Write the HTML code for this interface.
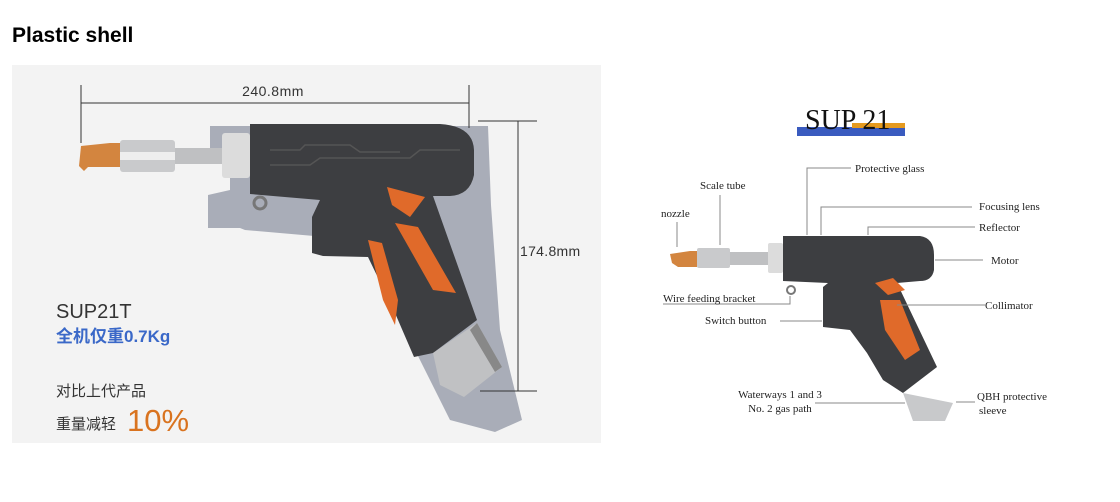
<!DOCTYPE html>
<html><head><meta charset="utf-8"><style>
body{margin:0;width:1120px;height:502px;background:#fff;overflow:hidden;font-family:"Liberation Sans",sans-serif}
</style></head><body>
<svg width="1120" height="502" xmlns="http://www.w3.org/2000/svg" style="position:absolute;left:0;top:0">
<text x="12" y="42" font-family="Liberation Sans" font-weight="bold" font-size="21" fill="#000">Plastic shell</text>
<rect x="12" y="65" width="589" height="378" fill="#f3f3f3"/>
<g fill="#a9adb8">
<polygon points="210,126 488,126 491,205 500,330 522,420 495,432 450,420 420,360 390,300 360,240 245,230 240,228 208,228 208,195 230,190 230,150 210,150"/>
</g>
<g stroke="#333" stroke-width="1" fill="none">
<line x1="81" y1="103" x2="469" y2="103"/><line x1="81" y1="85" x2="81" y2="143"/><line x1="469" y1="85" x2="469" y2="128"/>
<line x1="518" y1="121" x2="518" y2="391"/><line x1="478" y1="121" x2="537" y2="121"/><line x1="480" y1="391" x2="537" y2="391"/>
</g>
<text x="273" y="96" text-anchor="middle" font-size="14" fill="#333" letter-spacing="0.5">240.8mm</text>
<text x="520" y="256" font-size="14" fill="#333" letter-spacing="0.3">174.8mm</text>
<polygon points="81,146 110,143 120,143 120,167 88,167 84,171 79,166" fill="#d3853f"/>
<rect x="120" y="140" width="55" height="32" rx="3" fill="#c9cacc"/>
<rect x="120" y="152" width="55" height="8" fill="#eeeeee"/>
<rect x="175" y="148" width="48" height="16" fill="#bfc0c2"/>
<rect x="222" y="133" width="28" height="45" rx="3" fill="#dcdcdc"/>
<circle cx="260" cy="203" r="6" fill="none" stroke="#777" stroke-width="3"/>
<path d="M250,124 L440,124 Q473,126 474,150 L474,175 Q470,195 450,196 L433,196 L477,320 L433,353 L414,357 L395,313 L368,257 L323,256 L312,253 L312,217 L320,200 L250,194 Z" fill="#3d3e41"/>
<polygon points="387,187 425,197 410,217 392,205" fill="#e06a2a"/>
<polygon points="395,223 418,227 456,293 433,290" fill="#e06a2a"/>
<polygon points="368,240 382,243 398,300 395,325 383,300" fill="#e06a2a"/>
<polygon points="433,353 477,323 502,367 464,397 440,385" fill="#c0c1c3"/>
<polygon points="477,323 502,367 495,372 470,330" fill="#888"/>
<g stroke="#555" stroke-width="1.5" fill="none"><path d="M270,150 L300,150 L305,145 L350,145 L360,152 L400,152"/><path d="M270,165 L310,165 L320,158 L410,158 L420,150 L460,150"/></g>
<text x="56" y="318" font-size="20" fill="#333">SUP21T</text>
<text x="56" y="342" font-family="Liberation Sans,'Noto Sans CJK SC',sans-serif" font-size="17" font-weight="bold" fill="#3a68c8">全机仅重0.7Kg</text>
<text x="56" y="396" font-family="Liberation Sans,'Noto Sans CJK SC',sans-serif" font-size="15" fill="#333">对比上代产品</text>
<text x="56" y="429" font-family="Liberation Sans,'Noto Sans CJK SC',sans-serif" font-size="15" fill="#333">重量减轻</text>
<text x="127" y="431" font-size="31" fill="#d9731f">10%</text>
<rect x="797" y="127" width="108" height="9" fill="#3a5bbf"/>
<rect x="852" y="123" width="53" height="5" fill="#e59a1f"/>
<text x="805" y="129" font-family="Liberation Serif,serif" font-size="28" fill="#111">SUP 21</text>
<polygon points="670,254 690,251 697,251 697,267 678,267 672,263" fill="#d3853f"/>
<rect x="697" y="248" width="33" height="20" rx="2" fill="#c9cacc"/>
<rect x="730" y="252" width="38" height="13" fill="#bfc0c2"/>
<rect x="768" y="243" width="15" height="30" rx="2" fill="#dcdcdc"/>
<circle cx="791" cy="290" r="4" fill="none" stroke="#777" stroke-width="2"/>
<path d="M783,236 L920,236 Q934,238 934,255 L934,270 Q932,281 920,281 L897,283 L937,367 L903,393 L883,380 L867,353 L850,330 L823,327 L823,287 L828,283 L783,281 Z" fill="#3d3e41"/>
<polygon points="875,283 893,278 905,290 888,295" fill="#e06a2a"/>
<polygon points="880,300 900,300 920,350 905,360 885,330" fill="#e06a2a"/>
<polygon points="903,393 953,403 945,421 913,421" fill="#c8c9cb"/>
<g stroke="#888" stroke-width="1" fill="none">
<path d="M807,235 L807,168 L851,168"/>
<path d="M720,195 L720,245"/>
<path d="M677,222 L677,247"/>
<path d="M821,235 L821,207 L972,207"/>
<path d="M868,235 L868,227 L975,227"/>
<path d="M935,260 L983,260"/>
<path d="M663,304 L790,304 L790,296"/>
<path d="M780,321 L822,321"/>
<path d="M897,305 L985,305"/>
<path d="M815,403 L905,403"/>
<path d="M956,402 L975,402"/>
</g>
<g font-family="Liberation Serif,serif" font-size="11" fill="#222">
<text x="855" y="172">Protective glass</text>
<text x="700" y="189">Scale tube</text>
<text x="661" y="217">nozzle</text>
<text x="979" y="210">Focusing lens</text>
<text x="979" y="231">Reflector</text>
<text x="991" y="264">Motor</text>
<text x="663" y="302">Wire feeding bracket</text>
<text x="705" y="324">Switch button</text>
<text x="985" y="309">Collimator</text>
<text x="780" y="398" text-anchor="middle">Waterways 1 and 3</text>
<text x="780" y="412" text-anchor="middle">No. 2 gas path</text>
<text x="977" y="400">QBH protective</text>
<text x="979" y="414">sleeve</text>
</g>
</svg>
</body></html>
